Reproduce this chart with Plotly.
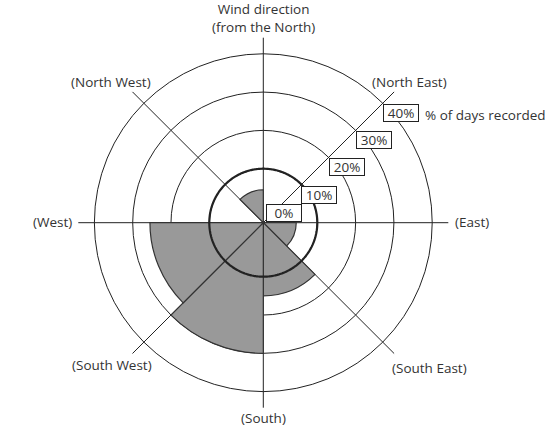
import numpy as np
import plotly.graph_objects as go

# sectors between the compass lines (centre angle, clockwise from North)
sector_theta = [22.5, 67.5, 112.5, 157.5, 202.5, 247.5, 292.5, 337.5]
pct_days = [0, 0, 4.5, 15, 30, 25.5, 0, 4.5]

ring_values = [0, 10, 20, 30, 40]
ring_labels = ["0%", "10%", "20%", "30%", "40%"]

compass_labels = ["(North East)", "(East)", "(South East)", "(South)",
                  "(South West)", "(West)", "(North West)"]
compass_pos = [(409, 82), (472, 222), (429, 368), (263, 418),
               (112, 365), (52, 222), (111, 82)]

W, H = 553, 429
CX, CY, R_PX = 263.3, 222.7, 185.0   # pixel centre / radius of the polar area
R_MIN, R_MAX = -4.1, 44.2            # radial range (0% sits a little off centre)

FONT = "Open Sans"
INK = "#222222"
TXT = "#333333"

fig = go.Figure()

# bars start at the very centre; empty sectors get no bar at all
fig.add_trace(go.Barpolar(
    theta=sector_theta,
    r=[(v - R_MIN) if v > 0 else 0 for v in pct_days],
    base=R_MIN,
    width=45,
    marker=dict(color="#999999", line=dict(color="#333333", width=1.2)),
    hoverinfo="skip",
))

# the 10% ring is drawn heavier
circle_theta = np.linspace(0, 360, 361)
fig.add_trace(go.Scatterpolar(
    theta=circle_theta, r=[10] * len(circle_theta), mode="lines",
    line=dict(color=INK, width=2.2), hoverinfo="skip",
))

fig.update_layout(
    width=W, height=H,
    margin=dict(l=0, r=0, t=0, b=0),
    paper_bgcolor="white",
    showlegend=False,
    font=dict(family=FONT, size=13.5, color=TXT),
    polar=dict(
        domain=dict(x=[(CX - R_PX) / W, (CX + R_PX) / W],
                    y=[1 - (CY + R_PX) / H, 1 - (CY - R_PX) / H]),
        bgcolor="white",
        radialaxis=dict(range=[R_MIN, R_MAX], tickvals=ring_values[1:],
                        showticklabels=False, ticks="", showline=False,
                        gridcolor=INK, gridwidth=1.2, layer="above traces"),
        angularaxis=dict(rotation=90, direction="clockwise", dtick=45,
                         showticklabels=False, ticks="", showline=False,
                         gridcolor=INK, gridwidth=1.2, layer="above traces"),
    ),
)

# boxed scale labels along the North East line
ang = np.deg2rad(45)
for v, lab in zip(ring_values, ring_labels):
    d = (v - R_MIN) / (R_MAX - R_MIN) * R_PX
    px = CX + d * np.cos(ang)
    py = CY - d * np.sin(ang)
    xs, ys = (-8, 8) if v == 0 else (0, -1)
    fig.add_annotation(
        x=px / W, y=1 - py / H, xref="paper", yref="paper",
        xanchor="left", yanchor="top", xshift=xs, yshift=ys,
        text=lab, showarrow=False, width=32, height=14,
        bgcolor="white", bordercolor=INK, borderwidth=1, borderpad=1,
    )
    if v == ring_values[-1]:
        fig.add_annotation(
            x=px / W, y=1 - py / H, xref="paper", yref="paper",
            xanchor="left", yanchor="top", xshift=40, yshift=-1,
            text="% of days recorded", showarrow=False, borderpad=1,
        )

fig.add_annotation(x=263 / W, y=1, xref="paper", yref="paper",
                   xanchor="center", yanchor="top", yshift=2,
                   text="Wind direction<br>(from the North)", showarrow=False)

for lab, (x, y) in zip(compass_labels, compass_pos):
    fig.add_annotation(x=x / W, y=1 - y / H, xref="paper", yref="paper",
                       xanchor="center", yanchor="middle",
                       text=lab, showarrow=False)

# page body has a default 8px margin; drop it so the figure fills the window
fig.write_html("out.html", config={"displayModeBar": False},
               post_script="document.body.style.margin='0';")
